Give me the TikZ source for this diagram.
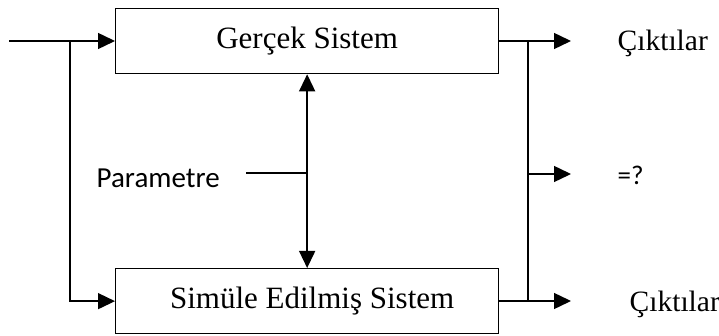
\documentclass[tikz,border=0pt]{standalone}
\usepackage{fontspec}
\setmainfont{Liberation Serif}
\newfontfamily\calibrifont{Carlito}
\usetikzlibrary{arrows.meta}
\begin{document}
\begin{tikzpicture}[x=1pt,y=-1pt,
  line width=1.4pt,
  sysbox/.style={draw, line width=1.3pt, minimum width=383pt, minimum height=65pt,
    inner sep=0pt, anchor=north west, font=\fontsize{31}{36}\selectfont},
  arr/.style={-{Triangle[length=17pt,width=16pt]}},
  arrboth/.style={{Triangle[length=17pt,width=16pt]}-{Triangle[length=17pt,width=16pt]}},
  serlabel/.style={anchor=base west, inner sep=0pt, font=\fontsize{29.5}{35}\selectfont},
  sanslabel/.style={anchor=base west, inner sep=0pt, font=\calibrifont\fontsize{29}{35}\selectfont},
]
\useasboundingbox (0,0) rectangle (719,336);

% the two systems
\node[sysbox] (gs) at (115,8) {Gerçek Sistem};
\node[sysbox] (ses) at (115,268) {\hspace*{10pt}Simüle Edilmiş Sistem};

% inputs
\coordinate (in) at (9,41);
\coordinate (splitL) at (70,41);
\draw[arr] (in) -- (in -| gs.west);
\draw[arr] (splitL) |- (ses.west);

% outputs
\coordinate (splitR) at (528,41);
\coordinate (splitRb) at (528,301);
\coordinate (cmp) at (528,174);
\coordinate (tipTop) at (571,41);
\coordinate (tipMid) at (571,174);
\coordinate (tipBot) at (571,301);
\draw[arr] (gs.east |- splitR) -- (tipTop);
\draw[arr] (ses.east |- splitRb) -- (tipBot);
\draw (splitR) -- (splitRb);
\draw[arr] (cmp) -- (tipMid);

% parameter link between the systems
\draw[arrboth] (gs.south) -- (ses.north);
\coordinate (pl) at (246,173);
\draw (pl) -- (pl -| gs.south);

% labels
\node[sanslabel] (param) at (96,188) {Parametre};
\node[serlabel] (outA) at (617,51) {Çıktılar};
\node[sanslabel, font=\calibrifont\fontsize{27}{32}\selectfont] (eq) at (617,185) {=?};
\node[serlabel] (outB) at (629,311) {Çıktılar};
\end{tikzpicture}
\end{document}
